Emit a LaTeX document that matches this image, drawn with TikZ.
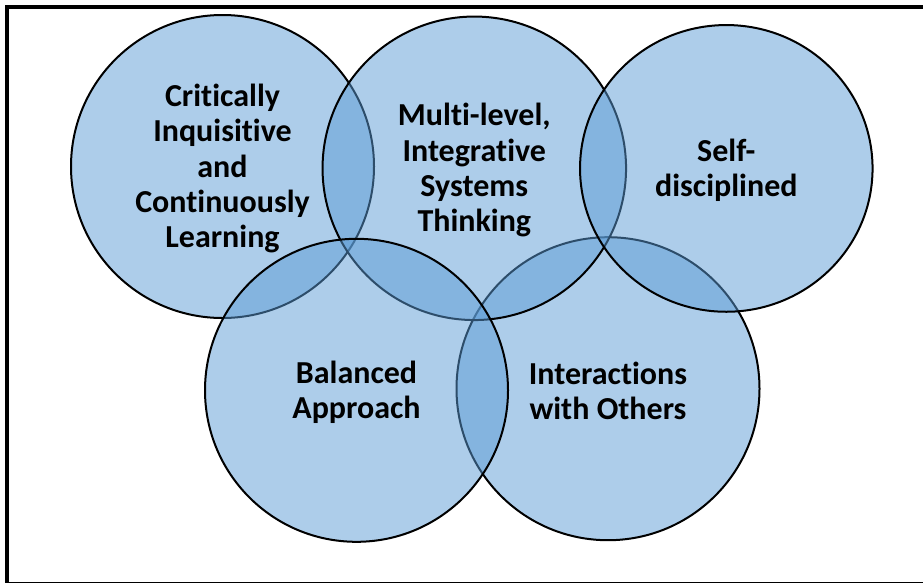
\documentclass[tikz,border=0pt]{standalone}
\usepackage{fontspec}
\setmainfont{Carlito}[Ligatures=NoCommon]
\usetikzlibrary{shapes.geometric}
\definecolor{ringblue}{HTML}{5B9BD5}
\begin{document}
\begin{tikzpicture}[x=1pt,y=-1pt,
  ring/.style={ellipse, draw=black, line width=2pt, fill=ringblue,
    fill opacity=0.5, draw opacity=1, inner sep=0pt},
  caption/.style={font=\bfseries\fontsize{32}{35.3}\selectfont, align=center,
    text=black, inner sep=0pt, yshift=-2pt}]
\useasboundingbox (0,0) rectangle (923,582);
\clip (0,0) rectangle (923,582);
% outer frame (its right side runs off the page)
\draw[line width=4pt] (7,7) rectangle (928,583.5);
% overlapping rings, bottom layer first
\node[ring, minimum width=303pt, minimum height=303pt] (learn) at (222.5,166.5) {};
\node[ring, minimum width=303pt, minimum height=303pt] (inter) at (608,388.7) {};
\node[ring, minimum width=303.5pt, minimum height=303.5pt] (multi) at (474.3,168.3) {};
\node[ring, minimum width=292.5pt, minimum height=286.7pt] (self) at (726.3,168.4) {};
\node[ring, minimum width=303pt, minimum height=303pt] (bal) at (356.5,390.3) {};
% captions
\node[caption] (tlearn) at (learn) {Critically\\Inquisitive\\and\\Continuously\\Learning};
\node[caption] (tmulti) at (multi) {Multi-level,\\Integrative\\Systems\\Thinking};
\node[caption] (tself) at (self) {Self-\\disciplined};
\node[caption] (tbal) at (bal) {Balanced\\Approach};
\node[caption] (tinter) at (inter) {Interactions\\with Others};
\end{tikzpicture}
\end{document}
